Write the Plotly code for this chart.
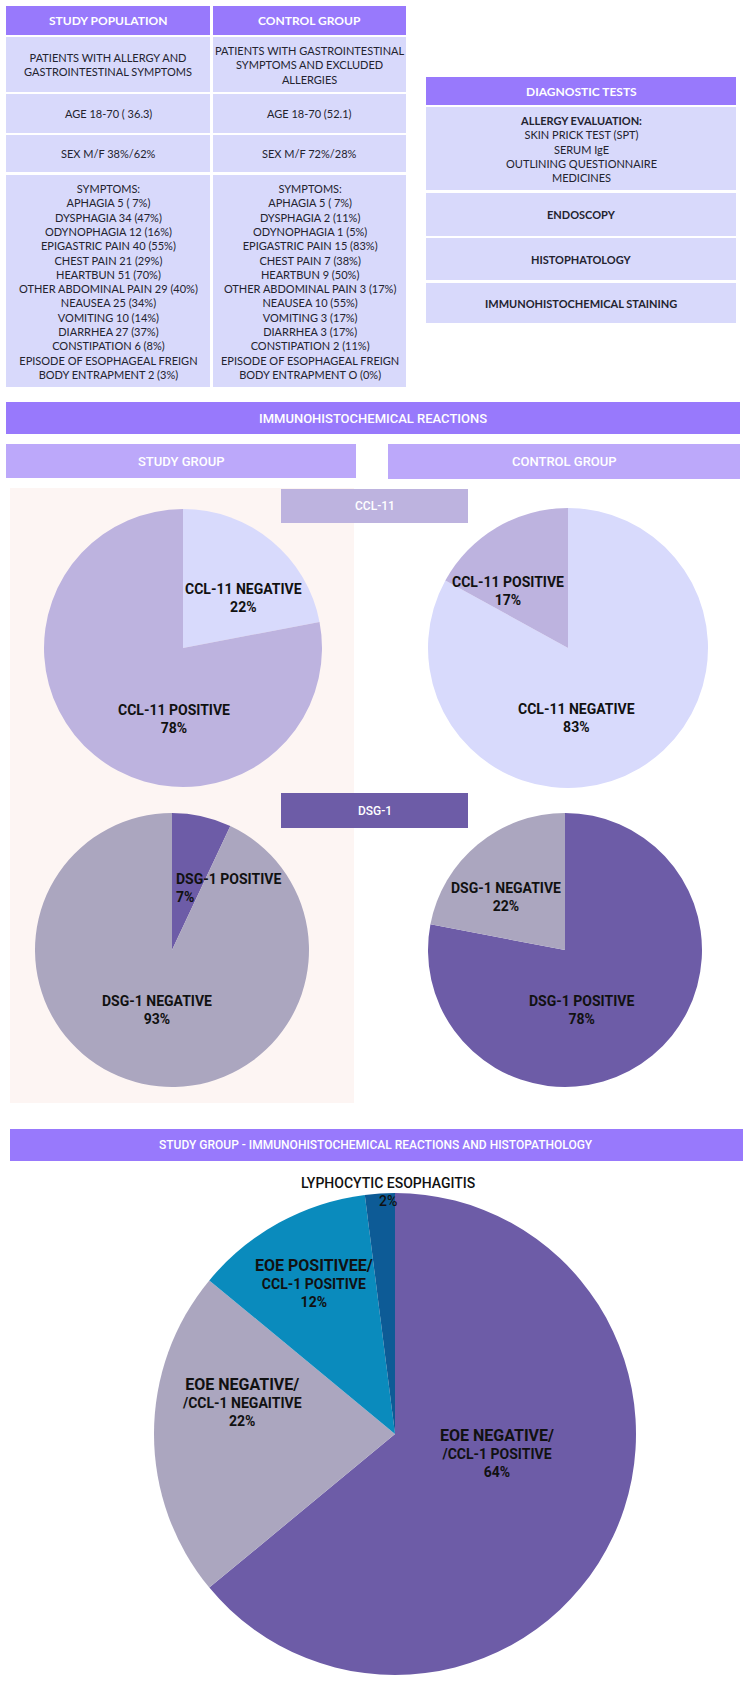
import plotly.graph_objects as go

W, H = 751, 1683

# ---- data ----
study_population = [
    "PATIENTS WITH ALLERGY AND<br>GASTROINTESTINAL SYMPTOMS",
    "AGE 18-70 ( 36.3)",
    "SEX M/F 38%/62%",
]
control_group = [
    "PATIENTS WITH GASTROINTESTINAL<br>SYMPTOMS AND EXCLUDED<br>ALLERGIES",
    "AGE 18-70 (52.1)",
    "SEX M/F 72%/28%",
]
symptoms_study = [
    "APHAGIA 5 ( 7%)", "DYSPHAGIA 34 (47%)", "ODYNOPHAGIA 12 (16%)",
    "EPIGASTRIC PAIN 40 (55%)", "CHEST PAIN 21 (29%)", "HEARTBUN 51 (70%)",
    "OTHER ABDOMINAL PAIN 29 (40%)", "NEAUSEA 25 (34%)", "VOMITING 10 (14%)",
    "DIARRHEA 27 (37%)", "CONSTIPATION 6 (8%)",
    "EPISODE OF ESOPHAGEAL FREIGN<br>BODY ENTRAPMENT 2 (3%)",
]
symptoms_control = [
    "APHAGIA 5 ( 7%)", "DYSPHAGIA 2 (11%)", "ODYNOPHAGIA 1 (5%)",
    "EPIGASTRIC PAIN 15 (83%)", "CHEST PAIN 7 (38%)", "HEARTBUN 9 (50%)",
    "OTHER ABDOMINAL PAIN 3 (17%)", "NEAUSEA 10 (55%)", "VOMITING 3 (17%)",
    "DIARRHEA 3 (17%)", "CONSTIPATION 2 (11%)",
    "EPISODE OF ESOPHAGEAL FREIGN<br>BODY ENTRAPMENT O (0%)",
]
allergy_tests = ["SKIN PRICK TEST (SPT)", "SERUM IgE", "OUTLINING QUESTIONNAIRE", "MEDICINES"]
other_tests = ["ENDOSCOPY", "HISTOPHATOLOGY", "IMMUNOHISTOCHEMICAL STAINING"]

ccl_study_labels = ["CCL-11 NEGATIVE", "CCL-11 POSITIVE"]
ccl_study_values = [22, 78]
ccl_control_labels = ["CCL-11 NEGATIVE", "CCL-11 POSITIVE"]
ccl_control_values = [83, 17]
dsg_study_labels = ["DSG-1 POSITIVE", "DSG-1 NEGATIVE"]
dsg_study_values = [7, 93]
dsg_control_labels = ["DSG-1 POSITIVE", "DSG-1 NEGATIVE"]
dsg_control_values = [78, 22]
histo_labels = ["EOE NEGATIVE/<br>/CCL-1 POSITIVE", "EOE NEGATIVE/<br>/CCL-1 NEGAITIVE",
                "EOE POSITIVEE/<br>CCL-1 POSITIVE", "LYPHOCYTIC ESOPHAGITIS"]
histo_values = [64, 22, 12, 2]

# colours
HEAD = "#9879fc"
CELL = "#d8d9fb"
SUB = "#bca8fa"
LIGHT = "#d8dafc"
LAV = "#bdb3df"
DARK = "#6d5ca7"
GREY = "#aba6bf"
TEAL = "#0a8bbd"
NAVY = "#0d5b96"
PINK = "#fdf5f3"
TXT = "#23232f"

fig = go.Figure()
shapes = []
annotations = []


def box(x0, y0, x1, y1, color):
    shapes.append(dict(type="rect", xref="x", yref="y", x0=x0, y0=y0, x1=x1, y1=y1,
                       fillcolor=color, line=dict(width=0), layer="below"))


def label(x, y, text, size=11, color=TXT, weight=400, family="Lato", xanchor="center", align="center"):
    annotations.append(dict(x=x, y=y, xref="x", yref="y", text=text, showarrow=False,
                            xanchor=xanchor, yanchor="middle", align=align,
                            font=dict(size=size, color=color, family=family, weight=weight)))


# ---- top-left table ----
box(6, 6, 210, 35, HEAD)
box(213, 6, 406, 35, HEAD)
label(108, 20.5, "STUDY POPULATION", 12, "white", 700)
label(309.5, 20.5, "CONTROL GROUP", 12, "white", 700)
rows = [(37, 92), (94, 133), (135, 172)]
for (y0, y1), s, c in zip(rows, study_population, control_group):
    box(6, y0, 210, y1, CELL)
    box(213, y0, 406, y1, CELL)
    label(108, (y0 + y1) / 2, s)
    label(309.5, (y0 + y1) / 2, c)
box(6, 175, 210, 387, CELL)
box(213, 175, 406, 387, CELL)
label(108, 281, "SYMPTOMS:<br>" + "<br>".join(symptoms_study))
label(309.5, 281, "SYMPTOMS:<br>" + "<br>".join(symptoms_control))

# ---- diagnostic tests ----
box(426, 77, 736, 105, HEAD)
label(581, 91, "DIAGNOSTIC TESTS", 12, "white", 700)
box(426, 107, 736, 190, CELL)
label(581, 149, "<b>ALLERGY EVALUATION:</b><br>" + "<br>".join(allergy_tests))
for (y0, y1), t in zip([(193, 236), (238, 280), (283, 323)], other_tests):
    box(426, y0, 736, y1, CELL)
    label(581, (y0 + y1) / 2, t, 11, TXT, 700)

# ---- immunohistochemical section ----
box(6, 402, 740, 434, HEAD)
label(373, 418, "IMMUNOHISTOCHEMICAL REACTIONS", 13, "white", 500, "Roboto")
box(6, 444, 356, 478, SUB)
label(181, 461, "STUDY GROUP", 13, "white", 500, "Roboto")
box(388, 444, 740, 479, SUB)
label(564, 461.5, "CONTROL GROUP", 13, "white", 500, "Roboto")
box(10, 488, 354, 1103, PINK)
box(281, 489, 468, 523, LAV)
label(374.5, 506, "CCL-11", 12, "white", 500, "Roboto")
box(281, 793, 468, 828, DARK)
label(374.5, 810.5, "DSG-1", 12, "white", 500, "Roboto")

box(10, 1129, 743, 1161, HEAD)
label(376, 1145, "STUDY GROUP - IMMUNOHISTOCHEMICAL REACTIONS AND HISTOPATHOLOGY",
      12, "white", 500, "Roboto")


def pie(cx, cy, r, labels, values, colors):
    fig.add_trace(go.Pie(
        labels=labels, values=values, sort=False, direction="clockwise", rotation=0,
        marker=dict(colors=colors, line=dict(width=0)), textinfo="none",
        hoverinfo="label+percent", showlegend=False,
        domain=dict(x=[(cx - r) / W, (cx + r) / W], y=[1 - (cy + r) / H, 1 - (cy - r) / H]),
    ))


pie(183, 648, 139, ccl_study_labels, ccl_study_values, [LIGHT, LAV])
pie(568, 648, 140, ccl_control_labels, ccl_control_values, [LIGHT, LAV])
pie(172, 950, 137, dsg_study_labels, dsg_study_values, [DARK, GREY])
pie(565, 950, 137, dsg_control_labels, dsg_control_values, [DARK, GREY])
pie(395, 1434, 241, histo_labels, histo_values, [DARK, GREY, TEAL, NAVY])

PF = "Roboto"
BLK = "#111111"
# pie labels
label(243, 598, f"{ccl_study_labels[0]}<br>{ccl_study_values[0]}%", 14, BLK, 700, PF)
label(174, 719, f"{ccl_study_labels[1]}<br>{ccl_study_values[1]}%", 14, BLK, 700, PF)
label(576, 718, f"{ccl_control_labels[0]}<br>{ccl_control_values[0]}%", 14, BLK, 700, PF)
label(508, 591, f"{ccl_control_labels[1]}<br>{ccl_control_values[1]}%", 14, BLK, 700, PF)
label(174, 888, f"{dsg_study_labels[0]}<br>{dsg_study_values[0]}%", 14, BLK, 700, PF,
      xanchor="left", align="left")
label(157, 1010, f"{dsg_study_labels[1]}<br>{dsg_study_values[1]}%", 14, BLK, 700, PF)
label(581, 1010, f"{dsg_control_labels[0]}<br>{dsg_control_values[0]}%", 14, BLK, 700, PF)
label(506, 897, f"{dsg_control_labels[1]}<br>{dsg_control_values[1]}%", 14, BLK, 700, PF)


def histo_text(lbl, val):
    first, _, rest = lbl.partition("<br>")
    return f"<span style='font-size:16px'>{first}</span><br>{rest}<br>{val}%"


label(497, 1453, histo_text(histo_labels[0], histo_values[0]), 14, BLK, 700, PF)
label(242, 1402, histo_text(histo_labels[1], histo_values[1]), 14, BLK, 700, PF)
label(314, 1283, histo_text(histo_labels[2], histo_values[2]), 14, BLK, 700, PF)
label(388, 1192, f"{histo_labels[3]}<br>{histo_values[3]}%", 14, BLK, 500, PF)

fig.update_layout(
    width=W, height=H,
    margin=dict(l=0, r=0, t=0, b=0),
    paper_bgcolor="white", plot_bgcolor="rgba(0,0,0,0)",
    xaxis=dict(range=[0, W], visible=False, fixedrange=True),
    yaxis=dict(range=[H, 0], visible=False, fixedrange=True),
    shapes=shapes, annotations=annotations,
)

fig.write_html("out.html", config={"displayModeBar": False},
               post_script="document.body.style.margin='0';")
